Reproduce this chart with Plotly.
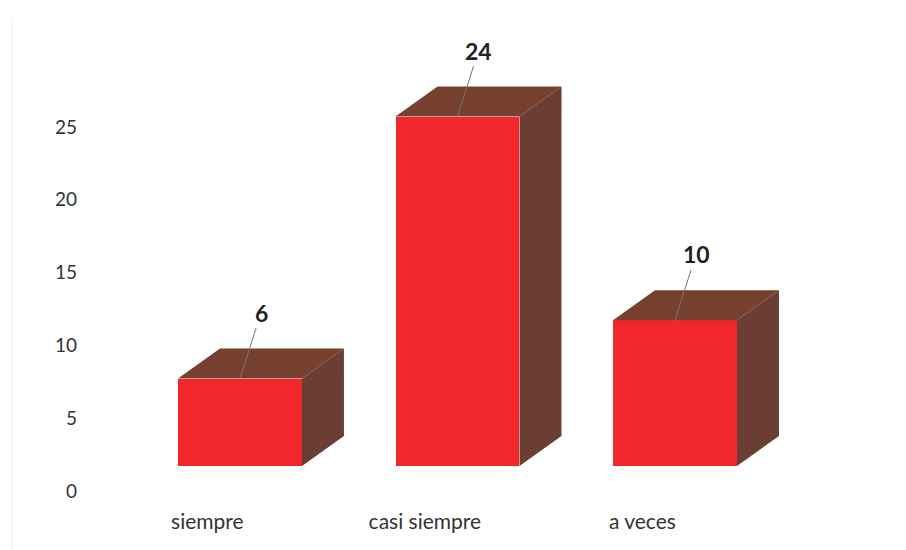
import plotly.graph_objects as go

# data
categories = ["siempre", "casi siempre", "a veces"]
values = [6, 24, 10]
y_ticks = [0, 5, 10, 15, 20, 25]

# pseudo-3D look (in axis units)
BAR_W = 0.57
DEPTH_X = 0.193
DEPTH_Y = 2.06
FLOOR = 1.72
LABEL_SHIFT = 0.15

FRONT = "#F2272B"
TOP = "#76402F"
SIDE = "#6A3E33"

xs = list(range(len(categories)))

fig = go.Figure()

# top and side faces built from each bar's value
for x, v in zip(xs, values):
    l, r = x - BAR_W / 2, x + BAR_W / 2
    top = FLOOR + v
    fig.add_trace(go.Scatter(
        x=[l, r, r + DEPTH_X, l + DEPTH_X, l],
        y=[top, top, top + DEPTH_Y, top + DEPTH_Y, top],
        fill="toself", fillcolor=TOP, mode="lines",
        line=dict(width=0), hoverinfo="skip", showlegend=False))
    fig.add_trace(go.Scatter(
        x=[r, r + DEPTH_X, r + DEPTH_X, r, r],
        y=[FLOOR, FLOOR + DEPTH_Y, top + DEPTH_Y, top, FLOOR],
        fill="toself", fillcolor=SIDE, mode="lines",
        line=dict(width=0), hoverinfo="skip", showlegend=False))

# front faces
fig.add_trace(go.Bar(
    x=xs, y=values, base=[FLOOR] * len(values), width=BAR_W,
    marker=dict(color=FRONT, line=dict(width=0)), showlegend=False))

# data labels with leader lines
for x, v in zip(xs, values):
    fig.add_annotation(
        x=x, y=FLOOR + v, text=f"<b>{v}</b>",
        showarrow=True, arrowhead=0, arrowwidth=1, arrowcolor="#777777",
        ax=21, ay=-66, font=dict(size=23, color="#222222"))

# page body adds an 8px offset, so margins are shifted to compensate
fig.update_layout(
    width=906, height=550,
    margin=dict(l=72, r=76, t=12, b=67),
    paper_bgcolor="white", plot_bgcolor="white",
    font=dict(family="Lato, 'Open Sans', sans-serif", size=19, color="#333333"),
    bargap=0,
    xaxis=dict(
        range=[-160 / 217.5, 2 + 163 / 217.5],
        tickvals=[x - LABEL_SHIFT for x in xs], ticktext=categories,
        showgrid=False, zeroline=False, showline=False,
        ticklabelstandoff=16, tickfont=dict(size=21)),
    yaxis=dict(
        range=[0, (491 - 20) / 14.56],
        tickvals=y_ticks,
        showgrid=False, zeroline=False, showline=False,
        ticklabelstandoff=2, tickfont=dict(size=19)),
    shapes=[dict(type="line", xref="paper", yref="paper",
                 x0=-68 / 758, x1=-68 / 758,
                 y0=-67 / 471, y1=1, line=dict(color="#F0F0F0", width=1))],
)

fig.write_html("out.html")
